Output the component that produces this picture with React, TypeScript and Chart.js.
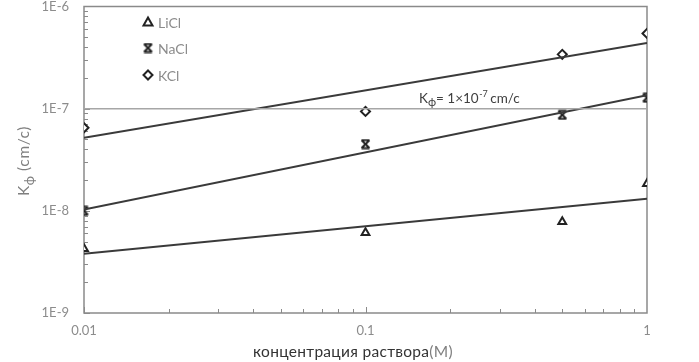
import React, { useEffect, useRef } from "react";
import { Chart, registerables } from "chart.js";

Chart.register(...registerables);

const xValues = [0.01, 0.1, 0.5, 1];
const liCl = [4.25e-9, 6.1e-9, 7.8e-9, 1.84e-8];
const naCl = [1.0e-8, 4.5e-8, 8.7e-8, 1.28e-7];
const kCl = [6.5e-8, 9.4e-8, 3.4e-7, 5.45e-7];

const trendX = [0.01, 1];
const trendLiCl = [3.8e-9, 1.31e-8];
const trendNaCl = [1.03e-8, 1.35e-7];
const trendKCl = [5.2e-8, 4.4e-7];
const refLine = [1e-7, 1e-7];

const yTickValues = [1e-9, 1e-8, 1e-7, 1e-6];
const yTickLabels = ["1E-9", "1E-8", "1E-7", "1E-6"];
const xTickValues = [0.01, 0.1, 1];
const xTickLabels = ["0.01", "0.1", "1"];

const seriesNames = ["LiCl", "NaCl", "KCl"];
const xTitle = "концентрация раствора";
const xTitleUnit = "(M)";
const annotationText = "= 1×10";

const FONT = "Lato, 'Open Sans', sans-serif";

function makeBowtie(size: number, color: string) {
  const c = document.createElement("canvas");
  c.width = size;
  c.height = size;
  const g = c.getContext("2d")!;
  g.strokeStyle = color;
  g.lineWidth = 2;
  const a = 1.5, b = size - 1.5;
  g.beginPath();
  g.moveTo(a, a); g.lineTo(b, b);
  g.moveTo(b, a); g.lineTo(a, b);
  g.moveTo(a, a); g.lineTo(b, a);
  g.moveTo(a, b); g.lineTo(b, b);
  g.stroke();
  return c;
}

function drawPointHelper(ctx: CanvasRenderingContext2D, style: any, x: number, y: number) {
  if (typeof style !== "string") {
    ctx.drawImage(style, x - style.width / 2, y - style.height / 2);
    return;
  }
  const r = 4.5;
  ctx.beginPath();
  if (style === "triangle") {
    ctx.moveTo(x, y - r);
    ctx.lineTo(x + r, y + r * 0.8);
    ctx.lineTo(x - r, y + r * 0.8);
    ctx.closePath();
  } else {
    ctx.moveTo(x, y - r);
    ctx.lineTo(x + r, y);
    ctx.lineTo(x, y + r);
    ctx.lineTo(x - r, y);
    ctx.closePath();
  }
  ctx.fill();
  ctx.stroke();
}

export default function App() {
  const ref = useRef<HTMLCanvasElement>(null);
  useEffect(() => {
    document.body.style.margin = "0";
    const bowtie = makeBowtie(11, "#222");
    const pts = (ys: number[]) => xValues.map((x, i) => ({ x, y: ys[i] }));
    const tpts = (ys: number[]) => trendX.map((x, i) => ({ x, y: ys[i] }));

    const overlay = {
      id: "overlay",
      beforeDatasetsDraw(chart: any) {
        const ctx = chart.ctx;
        const xs = chart.scales.x;
        const ys = chart.scales.y;
        const { left, right, top, bottom } = chart.chartArea;
        ctx.save();
        ctx.strokeStyle = "#8a8a8a";
        ctx.lineWidth = 1;
        for (let e = -9; e < -6; e++) {
          for (let m = 1; m <= 9; m++) {
            const v = m * Math.pow(10, e);
            const py = Math.round(ys.getPixelForValue(v)) + 0.5;
            ctx.beginPath();
            ctx.moveTo(left, py);
            ctx.lineTo(left + (m === 1 ? 6 : 4), py);
            ctx.stroke();
          }
        }
        for (let e = -2; e < 0; e++) {
          for (let m = 1; m <= 9; m++) {
            const v = m * Math.pow(10, e);
            const px = Math.round(xs.getPixelForValue(v)) + 0.5;
            ctx.beginPath();
            ctx.moveTo(px, bottom);
            ctx.lineTo(px, bottom - (m === 1 ? 6 : 4));
            ctx.stroke();
          }
        }
        ctx.strokeStyle = "#8a8a8a";
        ctx.lineWidth = 1.5;
        ctx.strokeRect(left, top, right - left, bottom - top);
        ctx.restore();
      },
      afterDraw(chart: any) {
        const ctx = chart.ctx;
        ctx.save();
        // legend
        const legendX = 148;
        const legendY = [22, 48, 75];
        const styles: any[] = ["triangle", bowtie, "rectRot"];
        legendY.forEach((ly, i) => {
          ctx.strokeStyle = "#222";
          ctx.fillStyle = "#fff";
          ctx.lineWidth = 2;
          drawPointHelper(ctx, styles[i], legendX, ly);
          ctx.fillStyle = "#8c8c8c";
          ctx.font = `14px ${FONT}`;
          ctx.textBaseline = "middle";
          ctx.textAlign = "left";
          ctx.fillText(seriesNames[i], legendX + 10, ly + 1);
        });
        // annotation
        ctx.fillStyle = "#404040";
        ctx.font = `13.5px ${FONT}`;
        ctx.textBaseline = "alphabetic";
        let ax = 419;
        const ay = 103;
        ctx.fillText("K", ax, ay);
        ax += ctx.measureText("K").width;
        ctx.font = `11.5px ${FONT}`;
        ctx.fillText("ф", ax, ay + 3);
        ax += ctx.measureText("ф").width;
        ctx.font = `13.5px ${FONT}`;
        ctx.fillText(annotationText, ax, ay);
        ax += ctx.measureText(annotationText).width;
        ctx.font = `9px ${FONT}`;
        ctx.fillText("-7", ax + 0.5, ay - 6);
        ax += ctx.measureText("-7").width + 3;
        ctx.font = `13.5px ${FONT}`;
        ctx.fillText("cm/c", ax, ay);
        // x title
        (ctx as any).letterSpacing = "0.3px";
        ctx.font = `15.5px ${FONT}`;
        const w1 = ctx.measureText(xTitle).width;
        const w2 = ctx.measureText(xTitleUnit).width;
        const cx = 353;
        const sx = cx - (w1 + w2) / 2;
        ctx.textAlign = "left";
        ctx.textBaseline = "middle";
        ctx.fillStyle = "#333";
        ctx.fillText(xTitle, sx, 352);
        ctx.fillStyle = "#7f7f7f";
        ctx.fillText(xTitleUnit, sx + w1, 352);
        // y title
        (ctx as any).letterSpacing = "0.6px";
        ctx.translate(24, 161);
        ctx.rotate(-Math.PI / 2);
        ctx.fillStyle = "#7f7f7f";
        const p1 = "K", p2 = "ф", p3 = " (cm/c)";
        ctx.font = `15.5px ${FONT}`;
        const a1 = ctx.measureText(p1).width;
        const a3 = ctx.measureText(p3).width;
        ctx.font = `13px ${FONT}`;
        const a2 = ctx.measureText(p2).width;
        let tx = -(a1 + a2 + a3) / 2;
        ctx.textBaseline = "alphabetic";
        ctx.font = `15.5px ${FONT}`;
        ctx.fillText(p1, tx, 5);
        tx += a1;
        ctx.font = `13px ${FONT}`;
        ctx.fillText(p2, tx, 10);
        tx += a2;
        ctx.font = `15.5px ${FONT}`;
        ctx.fillText(p3, tx, 5);
        ctx.restore();
      },
    };

    const trendStyle = {
      showLine: true,
      borderColor: "#3a3a3a",
      borderWidth: 2,
      pointRadius: 0,
    };

    const chart = new Chart(ref.current!, {
      type: "scatter",
      data: {
        datasets: [
          {
            label: "ref",
            data: tpts(refLine),
            showLine: true,
            borderColor: "#a6a6a6",
            borderWidth: 1.5,
            pointRadius: 0,
          },
          { label: "trendLiCl", data: tpts(trendLiCl), ...trendStyle },
          { label: "trendNaCl", data: tpts(trendNaCl), ...trendStyle },
          { label: "trendKCl", data: tpts(trendKCl), ...trendStyle },
          {
            label: "LiCl",
            data: pts(liCl),
            pointStyle: "triangle",
            pointRadius: 4.5,
            borderColor: "#222",
            backgroundColor: "#fff",
            pointBorderWidth: 2,
          } as any,
          {
            label: "NaCl",
            data: pts(naCl),
            pointStyle: bowtie,
            pointRadius: 5,
            borderColor: "#222",
            backgroundColor: "#fff",
          } as any,
          {
            label: "KCl",
            data: pts(kCl),
            pointStyle: "rectRot",
            pointRadius: 4.5,
            borderColor: "#222",
            backgroundColor: "#fff",
            pointBorderWidth: 2,
          } as any,
        ],
      },
      options: {
        animation: false,
        responsive: false,
        layout: { padding: { left: 0, right: 52, top: 6, bottom: 0 } },
        plugins: { legend: { display: false }, tooltip: { enabled: false } },
        scales: {
          x: {
            type: "logarithmic",
            min: 0.01,
            max: 1,
            grid: { display: false, drawTicks: false },
            border: { display: false },
            afterBuildTicks: (s: any) => {
              s.ticks = xTickValues.map((v) => ({ value: v }));
            },
            afterFit: (s: any) => {
              s.height = 49;
              s.paddingLeft = 0;
              s.paddingRight = 0;
            },
            ticks: {
              autoSkip: false,
              maxRotation: 0,
              padding: 10,
              color: "#8c8c8c",
              font: { family: FONT, size: 13 },
              callback: (v: any) => {
                const i = xTickValues.findIndex((t) => Math.abs(t - v) / t < 1e-6);
                return i >= 0 ? xTickLabels[i] : "";
              },
            },
          },
          y: {
            type: "logarithmic",
            min: 1e-9,
            max: 1e-6,
            grid: { display: false, drawTicks: false },
            border: { display: false },
            afterBuildTicks: (s: any) => {
              s.ticks = yTickValues.map((v) => ({ value: v }));
            },
            afterFit: (s: any) => {
              s.width = 84;
              s.paddingTop = 0;
              s.paddingBottom = 0;
            },
            ticks: {
              autoSkip: false,
              padding: 15,
              color: "#8c8c8c",
              font: { family: FONT, size: 13 },
              callback: (v: any) => {
                const i = yTickValues.findIndex((t) => Math.abs(t - v) / t < 1e-6);
                return i >= 0 ? yTickLabels[i] : "";
              },
            },
          },
        },
      } as any,
      plugins: [overlay],
    });
    return () => chart.destroy();
  }, []);
  return (
    <div style={{ width: 699, height: 362, position: "relative" }}>
      <canvas ref={ref} width={699} height={362} style={{ display: "block" }} />
    </div>
  );
}
